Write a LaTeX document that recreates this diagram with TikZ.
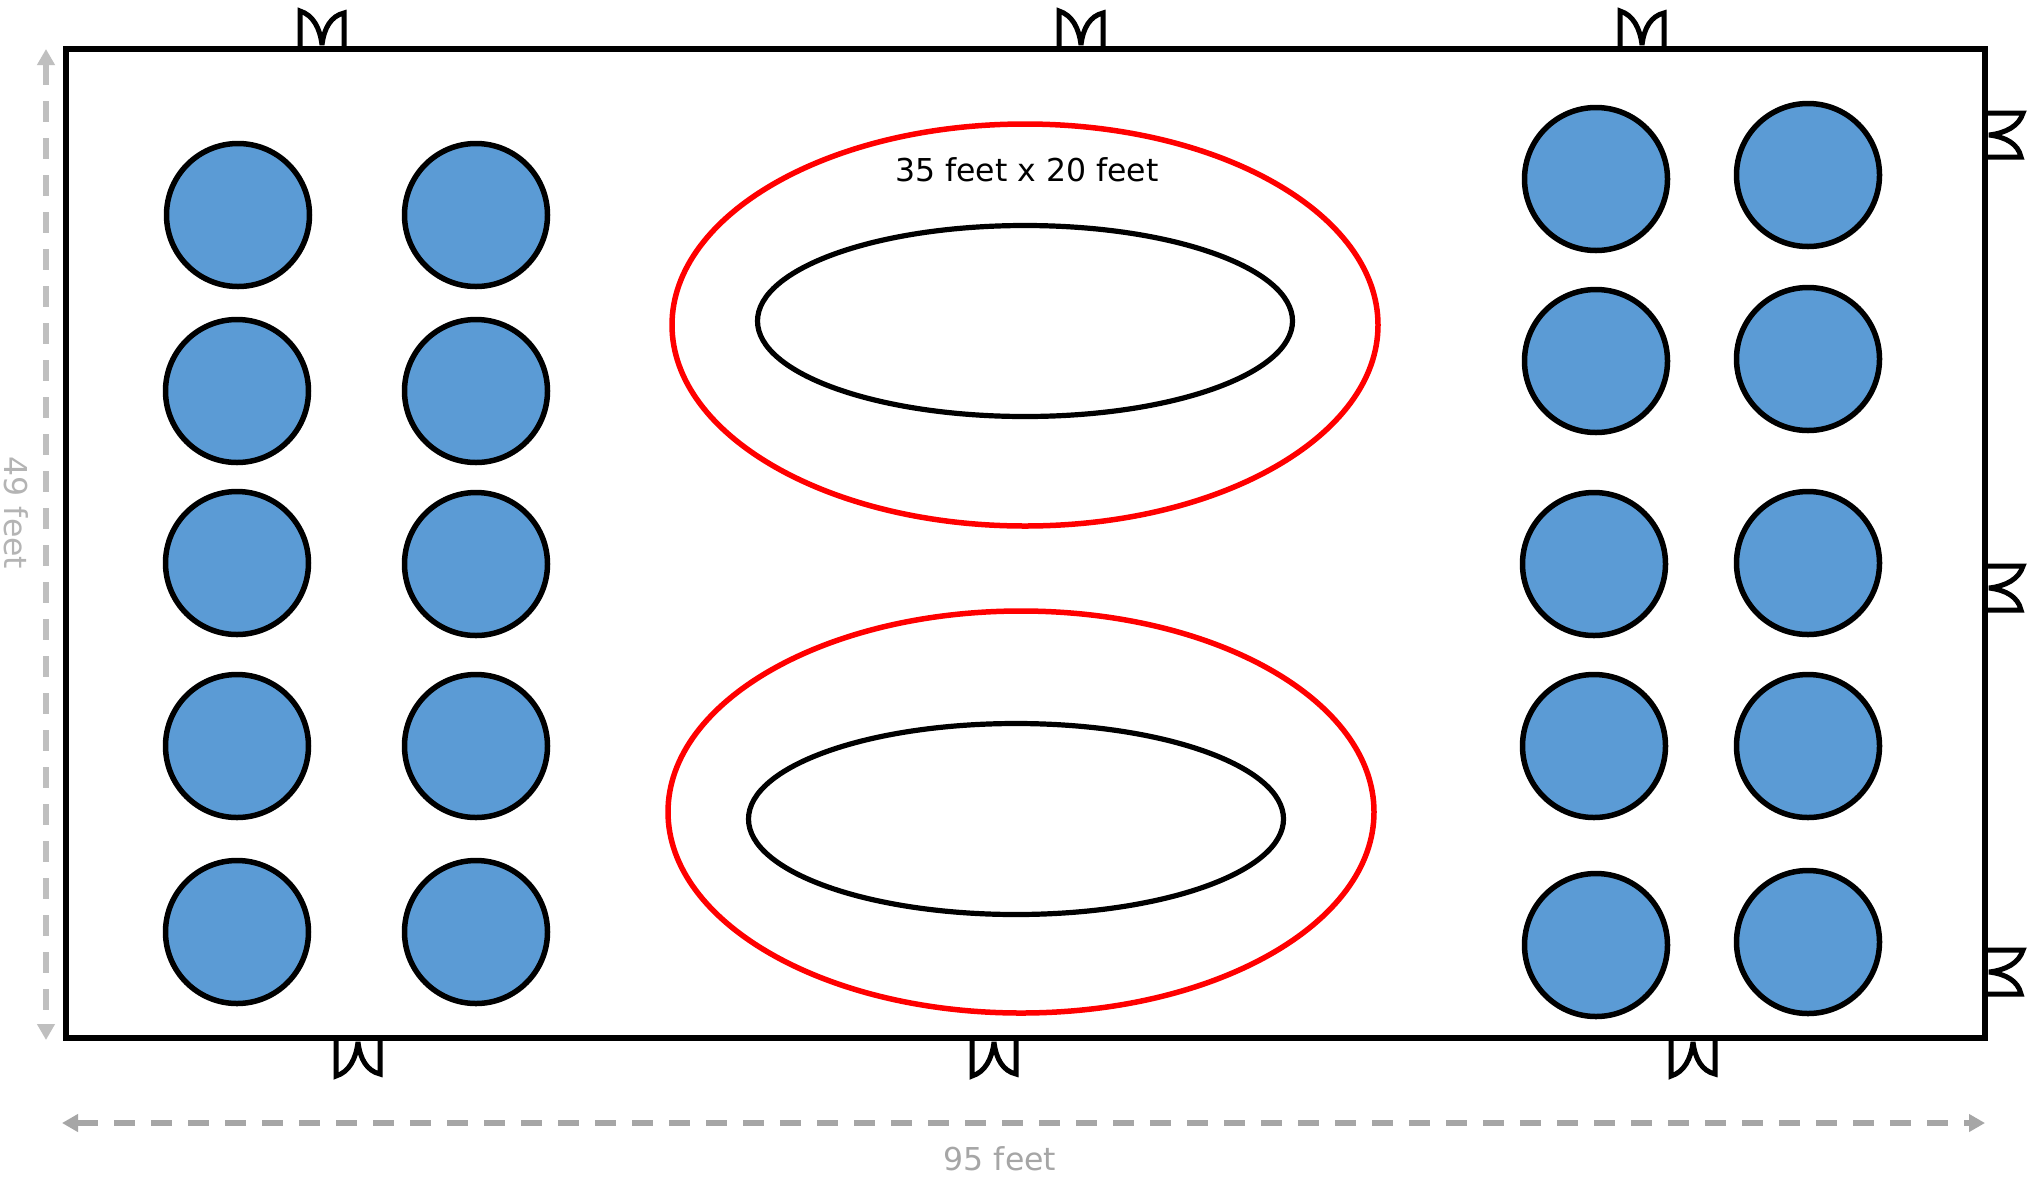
\documentclass[tikz,border=0pt]{standalone}
\usepackage{fontspec}
\setmainfont{DejaVu Sans}
\usetikzlibrary{shapes.geometric,arrows.meta}
\definecolor{seat}{HTML}{5B9BD5}
\definecolor{dimdark}{HTML}{A6A6A6}
\definecolor{dimlight}{HTML}{BFBFBF}
\definecolor{dimtext}{HTML}{B4B4B4}
\tikzset{
  x=1pt,y=-1pt,
  seatc/.style={circle,draw=black,fill=seat,line width=5.5pt,minimum size=143pt,inner sep=0pt,outer sep=0pt},
  redring/.style={ellipse,draw=red,line width=5.5pt,minimum width=706pt,minimum height=402pt,inner sep=0pt,outer sep=0pt},
  blackring/.style={ellipse,draw=black,line width=5.2pt,minimum width=535pt,minimum height=191pt,inner sep=0pt,outer sep=0pt},
  door/.pic={\draw[line width=5pt,line join=miter,miter limit=2.2]
     (-22,0)--(-22,-37) .. controls (-9,-33) and (-2,-20) .. (0,-3)
     .. controls (2,-20) and (9,-32) .. (22,-35)--(22,0);},
  dimline/.style={line width=6pt,dash pattern=on 21pt off 16pt,{Triangle[length=16pt,width=17pt]}-{Triangle[length=16pt,width=17pt]}},
  txt/.style={font=\fontsize{31.5}{38}\selectfont,inner sep=0pt}
}
\begin{document}
\begin{tikzpicture}
\useasboundingbox (0,0) rectangle (2028,1176);
\fill[white] (0,0) rectangle (2028,1176);
% seats
\foreach \n/\cx/\cy in {
 a1/238/215,a2/237/391,a3/237/563,a4/237/746,a5/237/932,
 b1/476/215,b2/476/391,b3/476/564,b4/476/746,b5/476/932,
 c1/1596/179,c2/1596/361,c3/1594/564,c4/1594/746,c5/1596/945,
 d1/1808/175,d2/1808/359,d3/1808/563,d4/1808/746,d5/1808/942}
  \node[seatc] (\n) at (\cx,\cy) {};
% rings
\node[redring] (r1) at (1025,325) {};
\node[blackring] (k1) at (1025,321) {};
\node[redring] (r2) at (1021,812) {};
\node[blackring] (k2) at (1016,819) {};
% room
\node[draw=black,line width=5.5pt,inner sep=0pt,outer sep=0pt,minimum width=1919pt,minimum height=989pt] (room) at (1025.5,543.5) {};
% doors
\foreach \n/\p in {t1/322,t2/1081,t3/1642}
  \pic (\n) at (\p,48) {door};
\foreach \n/\p in {u1/358,u2/994,u3/1693}
  \pic[yscale=-1] (\n) at (\p,1039) {door};
\foreach \n/\p in {s1/135,s2/588,s3/972}
  \pic[rotate=-90] (\n) at (1986,\p) {door};
% dimensions
\coordinate (hl) at (62,1123);
\coordinate (hr) at (1985,1123);
\coordinate (vt) at (46,49);
\coordinate (vb) at (46,1040);
\draw[dimdark,dimline] (hl) -- (hr);
\draw[dimlight,dimline] (vt) -- (vb);
% labels
\node[txt,text=black] (lab) at (1027,170) {35 feet x 20 feet};
\node[txt,text=dimdark] (w) at (1000,1159) {95 feet};
\node[txt,text=dimtext,rotate=-90] (h) at (16,513) {49 feet};
\end{tikzpicture}
\end{document}
